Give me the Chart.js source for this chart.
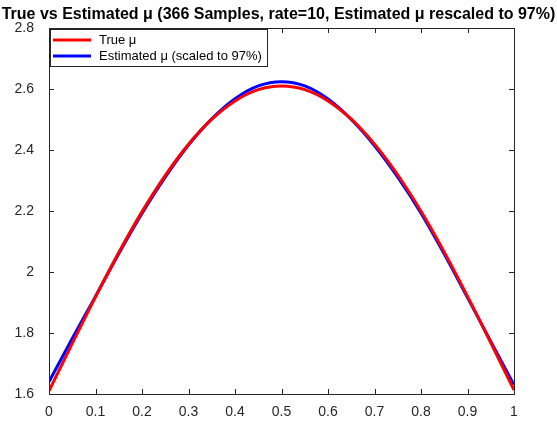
<!DOCTYPE html>
<html>
<head>
<meta charset="utf-8">
<script src="https://cdn.jsdelivr.net/npm/chart.js@4"></script>
<style>
  html, body { margin: 0; padding: 0; background: #fff; }
  #wrap { width: 557px; height: 421px; }
</style>
</head>
<body>
<div id="wrap"><canvas id="myChart" width="557" height="421"></canvas></div>
<script>
// sample positions along x
const xs = [0, 0.05, 0.1, 0.15, 0.2, 0.25, 0.3, 0.35, 0.4, 0.45, 0.5,
  0.55, 0.6, 0.65, 0.7, 0.75, 0.8, 0.85, 0.9, 0.95, 1];

// values
const trueMu = [1.610, 1.766, 1.919, 2.064, 2.198, 2.317, 2.419, 2.501, 2.561, 2.598, 2.610,
  2.598, 2.561, 2.501, 2.419, 2.318, 2.199, 2.065, 1.920, 1.768, 1.613];
const estMu = [1.640, 1.782, 1.920, 2.060, 2.192, 2.311, 2.416, 2.502, 2.568, 2.610, 2.624,
  2.610, 2.567, 2.500, 2.414, 2.311, 2.193, 2.059, 1.916, 1.772, 1.630];

const seriesLabels = ["True μ", "Estimated μ (scaled to 97%)"];
const titleText = "True vs Estimated μ (366 Samples, rate=10, Estimated μ rescaled to 97%)";

const FONT = "'Liberation Sans', Arial, Helvetica, sans-serif";
const AXIS = "#262626";

function toPoints(ys) {
  return xs.map((x, i) => ({ x: x, y: ys[i] }));
}

// plain number labels, like 0, 0.1 ... 1
function plainLabel(v) {
  return String(Math.round(v * 10) / 10);
}

// box, inward ticks, title and legend in MATLAB style
const matlabStyle = {
  id: "matlabStyle",
  afterDatasetsDraw(chart) {
    const { ctx, chartArea: a, scales } = chart;
    const xsc = scales.x;
    const ysc = scales.y;
    ctx.save();
    ctx.strokeStyle = AXIS;
    ctx.lineWidth = 1;
    ctx.beginPath();
    xsc.ticks.forEach((t) => {
      const px = Math.round(xsc.getPixelForValue(t.value)) + 0.5;
      ctx.moveTo(px, a.bottom);
      ctx.lineTo(px, a.bottom - 5);
      ctx.moveTo(px, a.top);
      ctx.lineTo(px, a.top + 5);
    });
    ysc.ticks.forEach((t) => {
      const py = Math.round(ysc.getPixelForValue(t.value)) + 0.5;
      ctx.moveTo(a.left, py);
      ctx.lineTo(a.left + 5, py);
      ctx.moveTo(a.right, py);
      ctx.lineTo(a.right - 5, py);
    });
    ctx.stroke();
    ctx.strokeRect(Math.round(a.left) + 0.5, Math.round(a.top) + 0.5,
      Math.round(a.right - a.left), Math.round(a.bottom - a.top));

    // title
    ctx.fillStyle = "#000";
    ctx.font = "bold 16px " + FONT;
    ctx.textAlign = "center";
    ctx.textBaseline = "middle";
    ctx.fillText(titleText, chart.width / 2, 15);

    // legend
    const lx = a.left + 1, ly = a.top + 1, lw = 217, lh = 37;
    ctx.fillStyle = "#fff";
    ctx.fillRect(lx, ly, lw, lh);
    ctx.strokeStyle = AXIS;
    ctx.strokeRect(lx + 0.5, ly + 0.5, lw, lh);
    ctx.font = "13px " + FONT;
    ctx.textAlign = "left";
    chart.data.datasets.forEach((ds, i) => {
      const yy = ly + 11 + i * 16;
      ctx.strokeStyle = ds.borderColor;
      ctx.lineWidth = 3;
      ctx.beginPath();
      ctx.moveTo(lx + 3, yy);
      ctx.lineTo(lx + 41, yy);
      ctx.stroke();
      ctx.fillStyle = "#000";
      ctx.fillText(ds.label, lx + 49, yy);
    });
    ctx.restore();
  },
};

const ctx = document.getElementById("myChart");

new Chart(ctx, {
  type: "line",
  data: {
    datasets: [
      {
        label: seriesLabels[0],
        data: toPoints(trueMu),
        borderColor: "#ff0000",
        borderWidth: 3,
        pointRadius: 0,
        cubicInterpolationMode: "monotone",
      },
      {
        label: seriesLabels[1],
        data: toPoints(estMu),
        borderColor: "#0000ff",
        borderWidth: 3,
        pointRadius: 0,
        cubicInterpolationMode: "monotone",
      },
    ],
  },
  options: {
    responsive: false,
    animation: false,
    layout: { padding: { top: 28, right: 43, left: 0, bottom: 0 } },
    plugins: {
      legend: { display: false },
      title: { display: false },
      tooltip: { enabled: false },
    },
    scales: {
      x: {
        type: "linear",
        min: 0,
        max: 1,
        ticks: {
          stepSize: 0.1,
          color: AXIS,
          font: { family: FONT, size: 14 },
          padding: 2,
          maxRotation: 0,
          callback: plainLabel,
        },
        grid: { display: false },
        border: { display: false },
        afterFit: (s) => { s.height = 27; },
      },
      y: {
        min: 1.6,
        max: 2.8,
        ticks: {
          stepSize: 0.2,
          color: AXIS,
          font: { family: FONT, size: 14 },
          padding: 7,
          callback: plainLabel,
        },
        grid: { display: false },
        border: { display: false },
        afterFit: (s) => { s.width = 49; },
      },
    },
  },
  plugins: [matlabStyle],
});
</script>
</body>
</html>
